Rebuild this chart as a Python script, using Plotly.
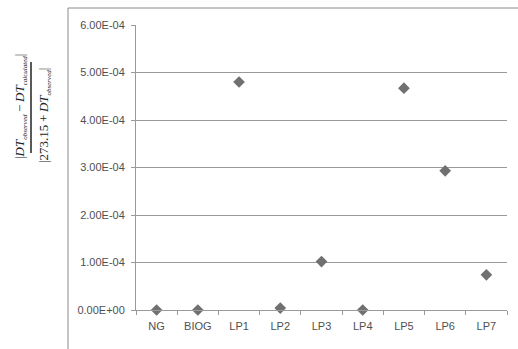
import plotly.graph_objects as go

categories = ["NG", "BIOG", "LP1", "LP2", "LP3", "LP4", "LP5", "LP6", "LP7"]
values = [0.0, 0.0, 4.80e-4, 4.0e-6, 1.02e-4, 0.0, 4.67e-4, 2.93e-4, 7.4e-5]
y_tickvals = [0, 1e-4, 2e-4, 3e-4, 4e-4, 5e-4, 6e-4]
y_ticktext = ["0.00E+00", "1.00E-04", "2.00E-04", "3.00E-04", "4.00E-04", "5.00E-04", "6.00E-04"]

W, H = 518, 349
L, R, T, B = 136, 11, 25, 39
pw, ph = W - L - R, H - T - B

def px(x):
    return (x - L) / pw

def py(y):
    return (H - B - y) / ph

def sub(s):
    return "<sub><span style='font-size:7px'><i>" + s + "</i></span></sub>"

fig = go.Figure()
fig.add_trace(go.Scatter(
    x=categories, y=values, mode="markers",
    marker=dict(symbol="diamond", size=9, color="#707070"),
    cliponaxis=False, showlegend=False,
))

grey = "#9a9a9a"
fig.update_layout(
    width=W, height=H,
    margin=dict(l=L, r=R, t=T, b=B),
    paper_bgcolor="white", plot_bgcolor="white",
    font=dict(family="Liberation Sans, Arial, sans-serif", size=11, color="#505050"),
    xaxis=dict(
        type="category", showgrid=False, showline=True, linecolor=grey, linewidth=1,
        ticks="outside", tickson="boundaries", ticklen=4, tickcolor=grey,
        ticklabelstandoff=6, zeroline=False,
        range=[-0.5, len(categories) - 0.5],
    ),
    yaxis=dict(
        range=[0, 6e-4], tickvals=y_tickvals, ticktext=y_ticktext,
        showgrid=True, gridcolor=grey, gridwidth=1,
        showline=True, linecolor=grey, linewidth=1,
        ticks="outside", ticklen=4, tickcolor=grey, zeroline=False,
        ticklabelstandoff=4,
    ),
    shapes=[
        dict(type="line", xref="paper", yref="paper",
             x0=px(68), x1=px(518), y0=py(8), y1=py(8),
             line=dict(color="#8a8a8a", width=1)),
        dict(type="line", xref="paper", yref="paper",
             x0=px(68), x1=px(68), y0=py(8), y1=py(349),
             line=dict(color="#8a8a8a", width=1)),
        dict(type="line", xref="paper", yref="paper",
             x0=px(31), x1=px(31), y0=py(62), y1=py(153),
             line=dict(color="#222222", width=1.5)),
    ],
    annotations=[
        dict(xref="paper", yref="paper", x=px(20), y=py(107),
             xanchor="center", yanchor="middle", textangle=-90, showarrow=False,
             text="|<i>DT</i>" + sub("observed") + "\u2009−\u2009<i>DT</i>" + sub("calculated") + "|",
             font=dict(family="Liberation Serif, Times New Roman, serif", size=13, color="#222222")),
        dict(xref="paper", yref="paper", x=px(44), y=py(116),
             xanchor="center", yanchor="middle", textangle=-90, showarrow=False,
             text="|273.15\u2009+\u2009<i>DT</i>" + sub("observed") + "|",
             font=dict(family="Liberation Serif, Times New Roman, serif", size=13, color="#222222")),
    ],
)

fig.write_html("out.html")
